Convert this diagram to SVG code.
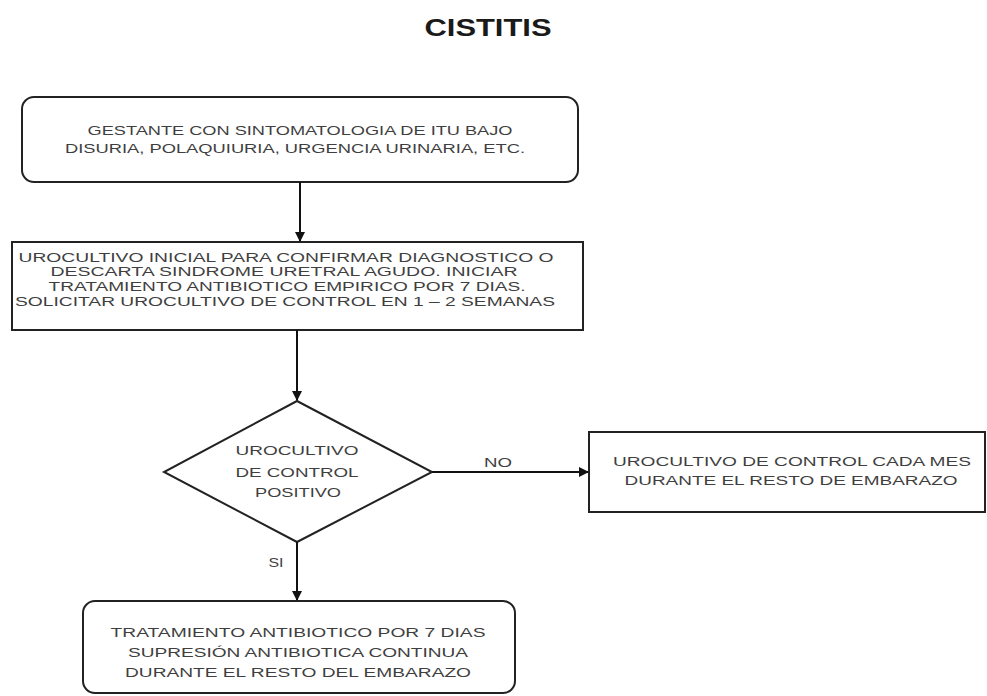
<svg xmlns="http://www.w3.org/2000/svg" width="987" height="696" viewBox="0 0 987 696">
<defs>
<marker id="ah" markerWidth="10" markerHeight="10" refX="9" refY="5" orient="auto" markerUnits="userSpaceOnUse">
<path d="M0,0 L10,5 L0,10 z" fill="#111"/>
</marker>
<style>
.box{fill:#fff;stroke:#222;stroke-width:2}
.t{font-family:"Liberation Sans",Arial,sans-serif;font-size:12px;fill:#3f3f3f;text-anchor:middle}
.d{font-size:13px}
.c{stroke:#111;stroke-width:2;fill:none}
.title{font-family:"Liberation Sans",Arial,sans-serif;font-size:24px;font-weight:bold;fill:#1a1a1a;text-anchor:middle}
</style>
</defs>
<rect width="987" height="696" fill="#fff"/>
<text class="title" x="488" y="36" textLength="127" lengthAdjust="spacingAndGlyphs">CISTITIS</text>
<g id="n1">
<rect class="box" x="22" y="97" width="556" height="85" rx="12"/>
<text class="t" x="300" y="135" textLength="425" lengthAdjust="spacingAndGlyphs">GESTANTE CON SINTOMATOLOGIA DE ITU BAJO</text>
<text class="t" x="295" y="153" textLength="460" lengthAdjust="spacingAndGlyphs">DISURIA, POLAQUIURIA, URGENCIA URINARIA, ETC.</text>
</g>
<g id="n2">
<rect class="box" x="12" y="242" width="571" height="88"/>
<text class="t" x="286" y="262" textLength="535" lengthAdjust="spacingAndGlyphs">UROCULTIVO INICIAL PARA CONFIRMAR DIAGNOSTICO O</text>
<text class="t" x="284" y="276" textLength="467" lengthAdjust="spacingAndGlyphs">DESCARTA SINDROME URETRAL AGUDO.  INICIAR</text>
<text class="t" x="287" y="291" textLength="477" lengthAdjust="spacingAndGlyphs">TRATAMIENTO ANTIBIOTICO EMPIRICO POR 7 DIAS.</text>
<text class="t" x="285" y="306" textLength="540" lengthAdjust="spacingAndGlyphs">SOLICITAR UROCULTIVO DE CONTROL EN 1 – 2 SEMANAS</text>
</g>
<g id="n3">
<polygon class="box" points="297,401 432,472 297,542 164,472"/>
<text class="t d" x="297" y="455" textLength="123" lengthAdjust="spacingAndGlyphs">UROCULTIVO</text>
<text class="t d" x="297" y="477" textLength="123" lengthAdjust="spacingAndGlyphs">DE CONTROL</text>
<text class="t d" x="298" y="497" textLength="86" lengthAdjust="spacingAndGlyphs">POSITIVO</text>
</g>
<g id="n4">
<rect class="box" x="589" y="432" width="396" height="80"/>
<text class="t" x="792" y="466" textLength="358" lengthAdjust="spacingAndGlyphs">UROCULTIVO DE CONTROL CADA MES</text>
<text class="t" x="791" y="485" textLength="333" lengthAdjust="spacingAndGlyphs">DURANTE EL RESTO DE EMBARAZO</text>
</g>
<g id="n5">
<rect class="box" x="83" y="601" width="432" height="92" rx="12"/>
<text class="t" x="298" y="637" textLength="375" lengthAdjust="spacingAndGlyphs">TRATAMIENTO ANTIBIOTICO POR 7 DIAS</text>
<text class="t" x="298" y="657" textLength="340" lengthAdjust="spacingAndGlyphs">SUPRESIÓN ANTIBIOTICA CONTINUA</text>
<text class="t" x="298" y="677" textLength="346" lengthAdjust="spacingAndGlyphs">DURANTE EL RESTO DEL EMBARAZO</text>
</g>
<g id="connectors">
<line class="c" x1="300" y1="182" x2="300" y2="241" marker-end="url(#ah)"/>
<line class="c" x1="297" y1="330" x2="297" y2="400" marker-end="url(#ah)"/>
<line class="c" x1="432" y1="472" x2="588" y2="472" stroke-width="1.5" marker-end="url(#ah)"/>
<line class="c" x1="297" y1="542" x2="297" y2="600" marker-end="url(#ah)"/>
<text class="t d" x="498" y="467" textLength="28" lengthAdjust="spacingAndGlyphs">NO</text>
<text class="t d" x="276" y="567" textLength="15" lengthAdjust="spacingAndGlyphs">SI</text>
</g>
</svg>
